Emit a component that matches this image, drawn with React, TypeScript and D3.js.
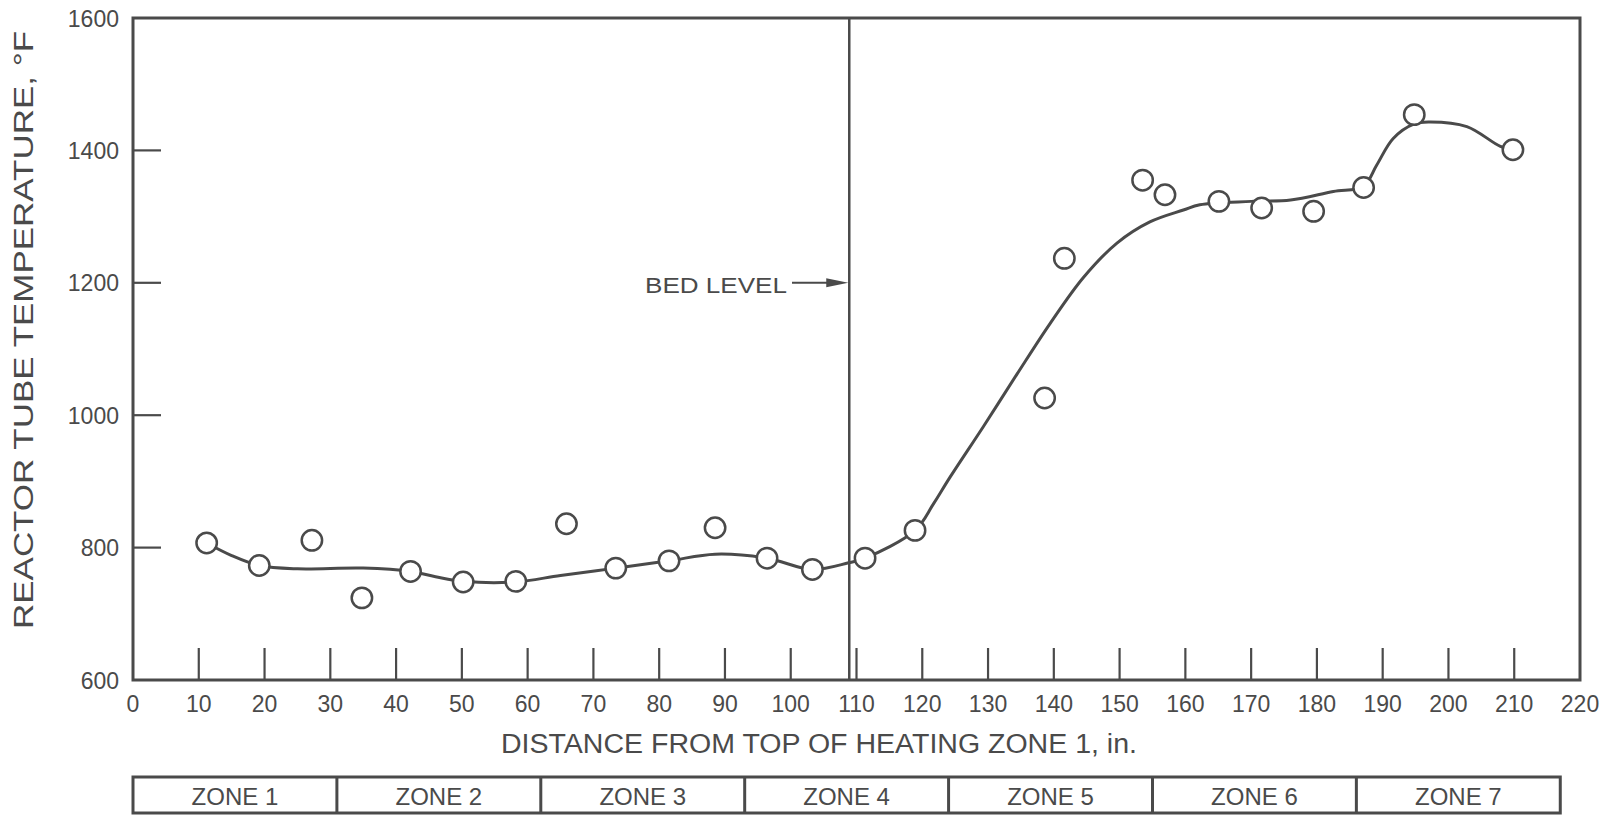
import React from "react";
import * as d3 from "d3";

const pointX = [11.2, 19.2, 27.2, 34.8, 42.2, 50.2, 58.2, 65.9, 73.4, 81.5, 88.5, 96.4, 103.3, 111.3, 118.9, 138.6, 141.6, 153.5, 156.9, 165.1, 171.6, 179.5, 187.1, 194.8, 209.8];
const pointY = [807, 773, 811, 724, 764, 748, 749, 836, 769, 780, 830, 784, 767, 784, 826, 1026, 1237, 1355, 1333, 1323, 1313, 1308, 1344, 1454, 1401];

const curveX = [11.2, 15, 19.2, 25, 35, 42.2, 46, 50.2, 58.2, 65, 73.4, 81.5, 88.5, 96.4, 103.3, 108.8, 111.3, 118.9, 121.7, 124.2, 129.3, 134.4, 139.4, 144.5, 149.6, 154.6, 159.7, 162.2, 170, 176, 182.5, 187.1, 189.1, 191.6, 194.8, 197, 202.8, 207.9, 209.8];
const curveY = [807, 788, 773, 768, 769, 764, 756, 749, 748, 758, 769, 780, 790, 784, 767, 777, 784, 826, 866, 906, 983, 1062, 1138, 1208, 1260, 1292, 1310, 1318, 1323, 1325, 1338, 1346, 1378, 1418, 1440, 1443, 1436, 1406, 1401];

const xTicks = [0, 10, 20, 30, 40, 50, 60, 70, 80, 90, 100, 110, 120, 130, 140, 150, 160, 170, 180, 190, 200, 210, 220];
const yTicks = [600, 800, 1000, 1200, 1400, 1600];
const zoneLabels = ["ZONE 1", "ZONE 2", "ZONE 3", "ZONE 4", "ZONE 5", "ZONE 6", "ZONE 7"];
const zoneWidth = 31;
const bedLevelX = 108.9;
const bedLevelY = 1200;

const INK = "#4a4a4a";
const FONT = "'Liberation Sans', Arial, sans-serif";

export default function App() {
  const x = d3.scaleLinear().domain([0, 220]).range([133, 1580]);
  const y = d3.scaleLinear().domain([600, 1600]).range([680, 18]);

  const line = d3
    .line<number>()
    .x((_, i) => x(curveX[i]))
    .y((_, i) => y(curveY[i]))
    .curve(d3.curveCatmullRom.alpha(0.5));

  const curvePath = line(curveX) || "";

  const zoneTop = 777;
  const zoneBottom = 813;

  const bx = x(bedLevelX);
  const by = y(bedLevelY);

  return (
    <svg
      width={1614}
      height={816}
      style={{ position: "absolute", left: 0, top: 0, background: "#fff" }}
      fontFamily={FONT}
    >
      <rect x={0} y={0} width={1614} height={816} fill="#fff" />
      {/* frame */}
      <rect
        x={x(0)}
        y={y(1600)}
        width={x(220) - x(0)}
        height={y(600) - y(1600)}
        fill="none"
        stroke={INK}
        strokeWidth={3}
      />
      {/* x ticks */}
      {xTicks
        .filter((t) => t > 0 && t < 220)
        .map((t) => (
          <line key={"xt" + t} x1={x(t)} x2={x(t)} y1={y(600)} y2={y(600) - 32} stroke={INK} strokeWidth={2.2} />
        ))}
      {xTicks.map((t) => (
        <text key={"xl" + t} x={x(t)} y={712} textAnchor="middle" fontSize={23} fill={INK}>
          {t}
        </text>
      ))}
      {/* y ticks */}
      {yTicks
        .filter((t) => t > 600 && t < 1600)
        .map((t) => (
          <line key={"yt" + t} x1={x(0)} x2={x(0) + 28} y1={y(t)} y2={y(t)} stroke={INK} strokeWidth={2.2} />
        ))}
      {yTicks.map((t) => (
        <text key={"yl" + t} x={119} y={y(t) + 8.5} textAnchor="end" fontSize={23} fill={INK}>
          {t}
        </text>
      ))}
      {/* axis titles */}
      <text x={819} y={753} textAnchor="middle" fontSize={27} fill={INK} textLength={636} lengthAdjust="spacingAndGlyphs">
        DISTANCE FROM TOP OF HEATING ZONE 1, in.
      </text>
      <text
        transform={`translate(33, 330) rotate(-90)`}
        textAnchor="middle"
        fontSize={27}
        fill={INK}
        textLength={598}
        lengthAdjust="spacingAndGlyphs"
      >
        REACTOR TUBE TEMPERATURE, °F
      </text>
      {/* bed level */}
      <line x1={bx} x2={bx} y1={y(1600)} y2={y(600)} stroke={INK} strokeWidth={2.5} />
      <line x1={792} x2={bx - 20} y1={by} y2={by} stroke={INK} strokeWidth={2} />
      <path d={`M${bx - 1},${by} L${bx - 23},${by - 4.5} L${bx - 23},${by + 4.5} Z`} fill={INK} />
      <text x={645} y={293} fontSize={22} fill={INK} textLength={142} lengthAdjust="spacingAndGlyphs">
        BED LEVEL
      </text>
      {/* fitted curve */}
      <path d={curvePath} fill="none" stroke={INK} strokeWidth={3} />
      {/* points */}
      {pointX.map((px, i) => (
        <circle key={"p" + i} cx={x(px)} cy={y(pointY[i])} r={10.2} fill="#fff" stroke={INK} strokeWidth={2.5} />
      ))}
      {/* zone boxes */}
      <rect
        x={x(0)}
        y={zoneTop}
        width={x(zoneWidth * 7) - x(0)}
        height={zoneBottom - zoneTop}
        fill="none"
        stroke={INK}
        strokeWidth={3}
      />
      {zoneLabels.map((z, i) => (
        <g key={z}>
          {i > 0 && (
            <line
              x1={x(zoneWidth * i)}
              x2={x(zoneWidth * i)}
              y1={zoneTop}
              y2={zoneBottom}
              stroke={INK}
              strokeWidth={3}
            />
          )}
          <text x={x(zoneWidth * (i + 0.5))} y={805} textAnchor="middle" fontSize={24} fill={INK}>
            {z}
          </text>
        </g>
      ))}
    </svg>
  );
}
